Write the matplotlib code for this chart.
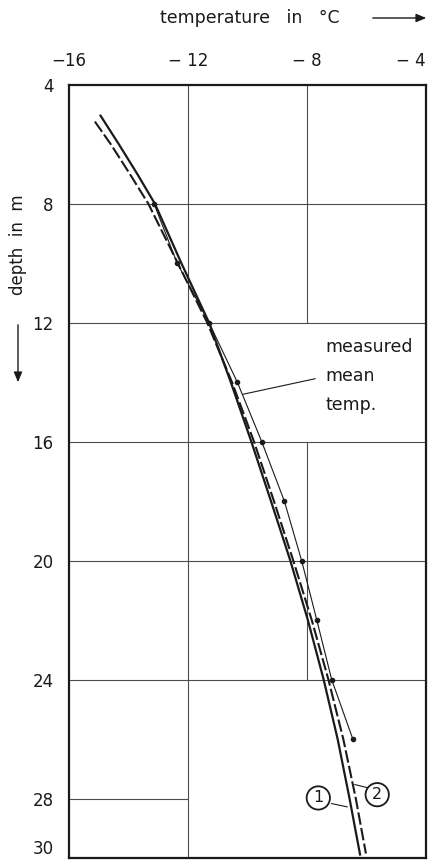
import matplotlib
matplotlib.use("Agg")
import matplotlib.pyplot as plt
from matplotlib.patches import FancyArrowPatch

# ---- data ----
depth_curve1 = [5.0, 6, 7, 8, 10, 12, 14, 16, 18, 20, 22, 24, 26, 28, 29.92]
temp_curve1 = [-14.96, -14.32, -13.70, -13.11, -12.22, -11.29, -10.56, -9.87, -9.21,
               -8.56, -7.97, -7.44, -6.97, -6.57, -6.21]

depth_curve2 = [5.23, 6, 7, 8, 10, 12, 14, 16, 18, 20, 22, 24, 26, 28, 29.85]
temp_curve2 = [-15.13, -14.59, -13.95, -13.33, -12.34, -11.35, -10.52, -9.78, -9.11,
               -8.46, -7.84, -7.28, -6.78, -6.36, -6.02]

depth_measured = [8, 10, 12, 14, 16, 18, 20, 22, 24, 26]
temp_measured = [-13.14, -12.36, -11.29, -10.34, -9.52, -8.76, -8.18, -7.67, -7.17, -6.46]

x_ticks = [-16, -12, -8, -4]
x_tick_labels = ["\u221216", "\u2212 12", "\u2212 8", "\u2212 4"]
y_ticks = [4, 8, 12, 16, 20, 24, 28, 30]
y_tick_labels = ["4", "8", "12", "16", "20", "24", "28", "30"]

W, H = 429, 867
fig = plt.figure(figsize=(W / 100, H / 100), dpi=100)
fig.patch.set_facecolor("white")


def fx(px):
    return px / W


def fy(py):
    return 1 - py / H


ax = fig.add_axes([fx(69), fy(858), fx(426) - fx(69), fy(85) - fy(858)])
ax.set_xlim(-16, -4)
ax.set_ylim(30, 4)

ink = "#1a1a1a"
grid_c = "#4d4d4d"

# partial grid as drawn in the reference
for d in [8, 12, 16, 20, 24]:
    ax.hlines(d, -16, -4, color=grid_c, lw=0.8, zorder=1)
ax.hlines(28, -16, -12, color=grid_c, lw=0.8, zorder=1)
ax.vlines(-12, 4, 30, color=grid_c, lw=0.8, zorder=1)
ax.vlines(-8, 4, 12, color=grid_c, lw=0.8, zorder=1)
ax.vlines(-8, 16, 24, color=grid_c, lw=0.8, zorder=1)

# curves
ax.plot(temp_curve1, depth_curve1, color=ink, lw=1.6, solid_capstyle="butt",
        solid_joinstyle="round", zorder=3)
ax.plot(temp_curve2, depth_curve2, color=ink, lw=1.5, dashes=(6, 1.6), zorder=3)
ax.plot(temp_measured, depth_measured, color=ink, lw=0.8, marker="o", ms=3.0, zorder=4)

# annotation: measured mean temp.
ax.text(-7.39, 12.8, "measured", fontsize=12.5, color=ink, va="center", ha="left")
ax.text(-7.39, 13.8, "mean", fontsize=12.5, color=ink, va="center", ha="left")
ax.text(-7.39, 14.75, "temp.", fontsize=12.5, color=ink, va="center", ha="left")
ax.plot([-7.73, -10.14], [13.88, 14.4], color=ink, lw=0.8, zorder=4)

# circled labels 1 and 2
circ = dict(boxstyle="circle,pad=0.26", fc="white", ec=ink, lw=1.3)
ax.text(-7.62, 27.98, "1", fontsize=11.5, ha="center", va="center", color=ink, bbox=circ, zorder=5)
ax.plot([-7.17, -6.65], [28.17, 28.28], color=ink, lw=0.8, zorder=4)
ax.text(-5.64, 27.87, "2", fontsize=11.5, ha="center", va="center", color=ink, bbox=circ, zorder=5)
ax.plot([-5.91, -6.39], [27.65, 27.53], color=ink, lw=0.8, zorder=4)

# axes styling
for s in ax.spines.values():
    s.set_linewidth(1.6)
    s.set_color(ink)
ax.xaxis.tick_top()
ax.set_xticks(x_ticks)
ax.set_xticklabels(x_tick_labels)
ax.set_yticks(y_ticks)
ax.set_yticklabels(y_tick_labels)
ax.tick_params(axis="x", length=0, pad=11, labelsize=12, colors=ink)
ax.tick_params(axis="y", length=0, pad=11, labelsize=12, colors=ink)
ax.get_xticklabels()[-1].set_horizontalalignment("right")
ax.get_yticklabels()[-1].set_verticalalignment("bottom")

# axis titles
fig.text(fx(250), fy(18), "temperature   in   \u00b0C", fontsize=12.5, ha="center",
         va="center", color=ink)
fig.add_artist(FancyArrowPatch((fx(370), fy(18)), (fx(429), fy(18)),
               transform=fig.transFigure, arrowstyle="-|>,head_length=6,head_width=2.5",
               color=ink, lw=1.0))
fig.text(fx(18), fy(245), "depth  in  m", fontsize=12, rotation=90, ha="center",
         va="center", color=ink)
fig.add_artist(FancyArrowPatch((fx(18), fy(322)), (fx(18), fy(385)),
               transform=fig.transFigure, arrowstyle="-|>,head_length=6,head_width=2.5",
               color=ink, lw=1.0))

fig.savefig("out.png", dpi=100, facecolor="white")
